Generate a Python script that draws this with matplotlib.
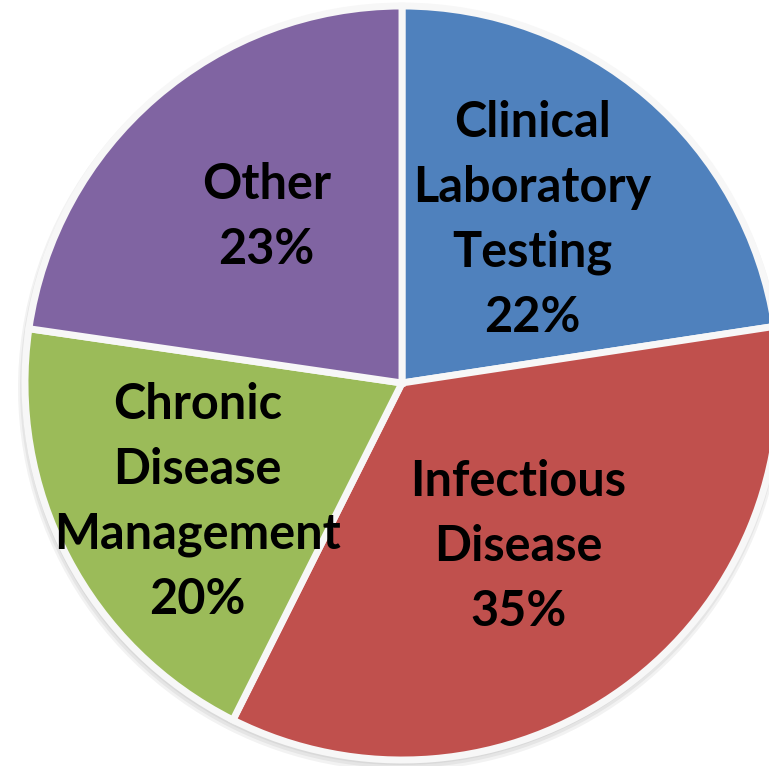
import numpy as np
import matplotlib
matplotlib.use("Agg")
import matplotlib.pyplot as plt

# share of applications (wedge sizes as measured, printed percentages as shown)
labels = ["Clinical\nLaboratory\nTesting", "Infectious\nDisease",
          "Chronic\nDisease\nManagement", "Other"]
shares = [22.6, 34.8, 19.9, 22.7]
pct_text = ["22%", "35%", "20%", "23%"]
colors = ["#4F81BD", "#C0504D", "#9BBB59", "#8064A2"]

# label block centres, offset from pie centre in units of radius
label_off = [(0.346, 0.432), (0.309, -0.434), (-0.543, -0.316), (-0.359, 0.440)]

W, H = 769, 766
fig = plt.figure(figsize=(W / 100, H / 100), dpi=100)
ax = fig.add_axes([0, 0, 1, 1])

cx, cy, R = 402, 383, 377

# soft shadow
for k in range(3):
    ax.pie(shares, startangle=90, counterclock=False, radius=R + 2 + 2 * k,
           center=(cx - 1, cy - 3 - k), colors=["#000000"] * 4,
           wedgeprops=dict(linewidth=0, alpha=0.05))

wedges, _ = ax.pie(shares, startangle=90, counterclock=False, radius=R,
                   center=(cx, cy), colors=colors,
                   wedgeprops=dict(edgecolor="#F7F7F7", linewidth=5))
ax.set_xlim(0, W)
ax.set_ylim(0, H)
ax.set_aspect("equal")
ax.axis("off")

line_h = 65
for lab, pct, (ox, oy) in zip(labels, pct_text, label_off):
    bx = cx + ox * R
    by = cy + oy * R
    lines = lab.split("\n") + [pct]
    n = len(lines)
    for i, t in enumerate(lines):
        y = by + (n - 1) / 2 * line_h - i * line_h
        ax.text(bx, y, t, ha="center", va="center", fontsize=35,
                fontweight="bold", family="Lato", color="black")

fig.savefig("out.png", dpi=100)
